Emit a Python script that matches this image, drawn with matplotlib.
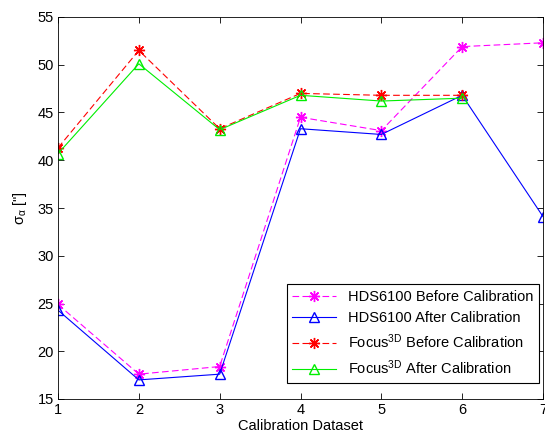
import matplotlib
matplotlib.use("Agg")
import matplotlib.pyplot as plt

plt.rcParams['font.family'] = ['Liberation Sans', 'DejaVu Sans']
plt.rcParams['mathtext.fontset'] = 'custom'
plt.rcParams['mathtext.rm'] = 'Liberation Sans'
plt.rcParams['mathtext.it'] = 'Liberation Sans'

x_hds = [1, 2, 3, 4, 5, 6, 7]
hds_before = [24.9, 17.6, 18.4, 44.5, 43.1, 51.9, 52.3]
hds_after = [24.3, 17.0, 17.6, 43.3, 42.7, 46.8, 34.1]
x_focus = [1, 2, 3, 4, 5, 6]
focus_before = [41.3, 51.5, 43.3, 47.0, 46.8, 46.8]
focus_after = [40.7, 50.1, 43.2, 46.8, 46.2, 46.5]

labels = ["HDS6100 Before Calibration", "HDS6100 After Calibration",
          r"Focus$^{\mathrm{3D}}$ Before Calibration", r"Focus$^{\mathrm{3D}}$ After Calibration"]

fig = plt.figure(figsize=(5.45, 4.42), dpi=100)
ax = fig.add_axes([58/545, 1 - 399/442, (543 - 58)/545, (399 - 17)/442])

ast = (8, 2, 0)
ax.plot(x_hds, hds_before, color='magenta', ls=(0, (6, 3)), lw=0.8, marker=ast, ms=8, mew=1.0, label=labels[0])
ax.plot(x_hds, hds_after, color='blue', ls='-', lw=0.8, marker='^', ms=7, mfc='none', label=labels[1])
ax.plot(x_focus, focus_before, color='red', ls=(0, (6, 3)), lw=0.8, marker=ast, ms=8, mew=1.0, label=labels[2])
ax.plot(x_focus, focus_after, color='#00ee00', ls='-', lw=0.8, marker='^', ms=7, mfc='none', label=labels[3])

ax.set_xlim(1, 7)
ax.set_ylim(15, 55)
ax.set_xticks(range(1, 8))
ax.set_yticks(range(15, 56, 5))
ax.tick_params(direction='in', top=True, right=True, labelsize=10.5, length=4, width=0.6, pad=3)
for s in ax.spines.values():
    s.set_linewidth(0.6)
ax.set_xlabel("Calibration Dataset", fontsize=10.5, labelpad=1)
ax.set_ylabel(r'$\sigma_\alpha$ ["]', fontsize=10.5, labelpad=6)

leg = ax.legend(loc='lower right', fontsize=10.5, fancybox=False, edgecolor='black',
                framealpha=1, borderpad=0.4, labelspacing=0.5, handlelength=3,
                borderaxespad=0, bbox_to_anchor=(0.992, 0.042))
leg.get_frame().set_linewidth(0.8)

fig.savefig("out.png", dpi=100)
